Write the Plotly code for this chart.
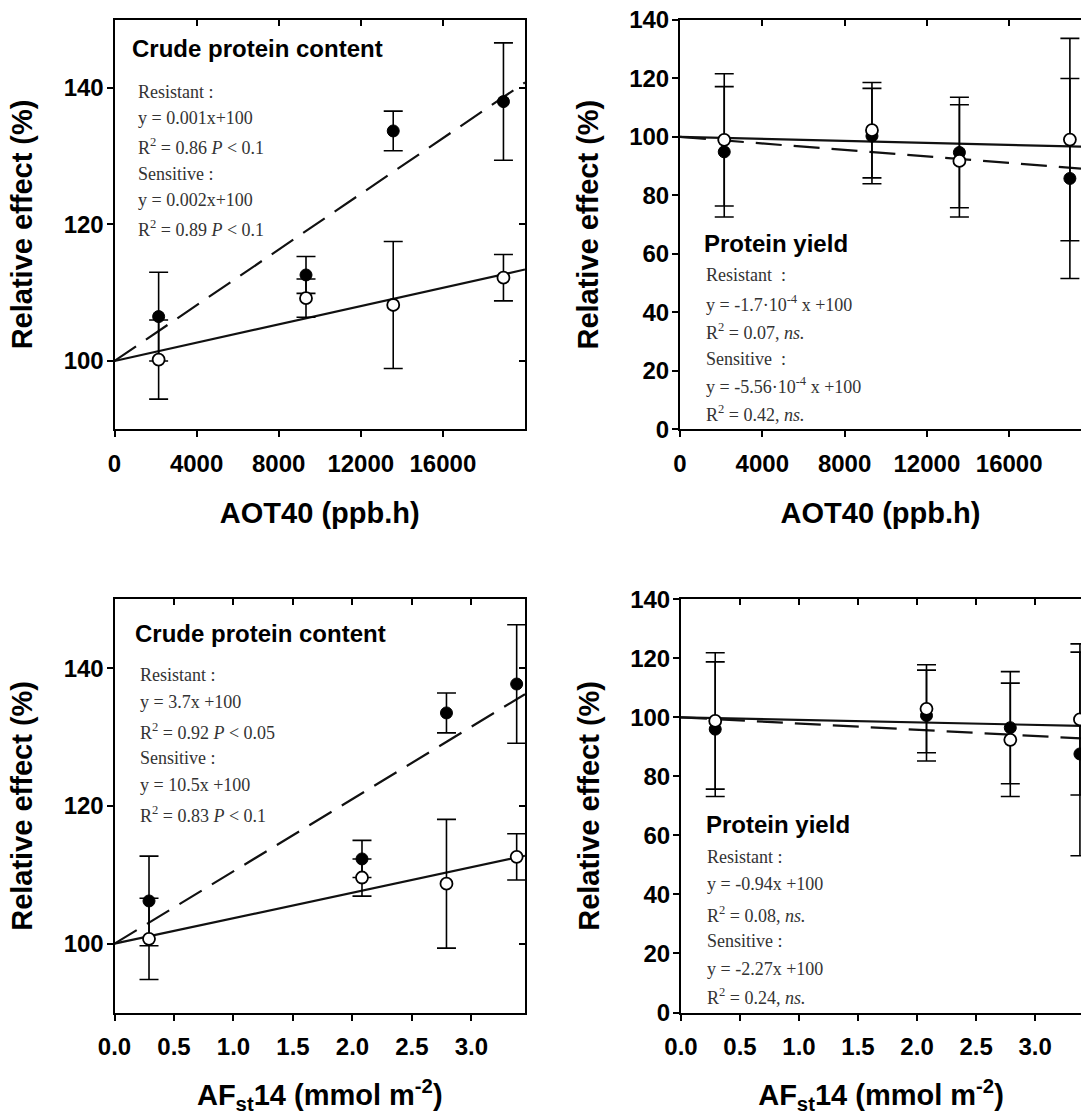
import plotly.graph_objects as go

# ---------------- data ----------------
aot40 = [2150, 9330, 13580, 18950]
afst14 = [0.29, 2.08, 2.79, 3.38]

# Crude protein content vs AOT40
cp_aot_sens = [106.5, 112.6, 133.7, 138.0]
cp_aot_sens_err = [6.5, 2.7, 2.9, 8.6]
cp_aot_res = [100.2, 109.2, 108.2, 112.2]
cp_aot_res_err = [5.8, 2.8, 9.3, 3.4]

# Protein yield vs AOT40
py_aot_sens = [94.9, 100.3, 94.7, 85.8]
py_aot_sens_err = [22.3, 16.3, 18.9, 34.2]
py_aot_res = [99.0, 102.3, 91.8, 99.1]
py_aot_res_err = [22.6, 16.3, 19.2, 34.6]

# Crude protein content vs AFst14
cp_af_sens = [106.2, 112.3, 133.5, 137.7]
cp_af_sens_err = [6.5, 2.7, 2.9, 8.6]
cp_af_res = [100.7, 109.6, 108.7, 112.6]
cp_af_res_err = [5.9, 2.7, 9.35, 3.35]

# Protein yield vs AFst14
py_af_sens = [96.0, 100.6, 96.5, 87.6]
py_af_sens_err = [22.8, 15.4, 19.0, 34.5]
py_af_res = [98.8, 102.9, 92.4, 99.3]
py_af_res_err = [23.1, 14.9, 19.2, 25.6]

# regression lines (intercept 100), slopes as drawn
reg_intercept = 100
slope_res = [0.00067, -1.7e-4, 3.7, -0.85]
slope_sens = [0.00204, -5.56e-4, 10.5, -2.1]

panel_titles = ["Crude protein content", "Protein yield", "Crude protein content", "Protein yield"]
eq_texts = [
    ["Resistant :", "y = 0.001x+100", "R<sup>2</sup> = 0.86 <i>P</i> &lt; 0.1",
     "Sensitive :", "y = 0.002x+100", "R<sup>2</sup> = 0.89 <i>P</i> &lt; 0.1"],
    ["Resistant  :", "y = -1.7·10<sup>-4</sup> x +100", "R<sup>2</sup> = 0.07, <i>ns.</i>",
     "Sensitive  :", "y = -5.56·10<sup>-4</sup> x +100", "R<sup>2</sup> = 0.42, <i>ns.</i>"],
    ["Resistant :", "y = 3.7x +100", "R<sup>2</sup> = 0.92 <i>P</i> &lt; 0.05",
     "Sensitive :", "y = 10.5x +100", "R<sup>2</sup> = 0.83 <i>P</i> &lt; 0.1"],
    ["Resistant :", "y = -0.94x +100", "R<sup>2</sup> = 0.08, <i>ns.</i>",
     "Sensitive :", "y = -2.27x +100", "R<sup>2</sup> = 0.24, <i>ns.</i>"],
]
x_titles = ["AOT40 (ppb.h)", "AOT40 (ppb.h)",
            "AF<sub>st</sub>14 (mmol m<sup>-2</sup>)", "AF<sub>st</sub>14 (mmol m<sup>-2</sup>)"]
y_title = "Relative effect (%)"
aot_ticks = [0, 4000, 8000, 12000, 16000]
aot_ticktext = ["0", "4000", "8000", "12000", "16000"]
af_ticks = [0.0, 0.5, 1.0, 1.5, 2.0, 2.5, 3.0]
af_ticktext = ["0.0", "0.5", "1.0", "1.5", "2.0", "2.5", "3.0"]
cp_yticks = [100, 120, 140]
py_yticks = [0, 20, 40, 60, 80, 100, 120, 140]

# ---------------- layout helpers ----------------
W, H = 1081, 1115
SANS = "Liberation Sans, Arial, sans-serif"
SERIF = "Liberation Serif, Times New Roman, serif"


def fx(p):
    return p / W


def fy(p):
    return 1 - p / H


panels = [
    dict(xd=(114.5, 525), yd=(19.7, 429.2), xr=[0, 20000], yr=[90, 150],
         xt=aot_ticks, xtt=aot_ticktext, yt=cp_yticks, right=True, xso=27,
         xs=aot40, sens=cp_aot_sens, se=cp_aot_sens_err, res=cp_aot_res, re=cp_aot_res_err,
         title=(130.4, 48.3), eq=(136.3, [92.3, 118.5, 146.2, 173.6, 200.3, 228.4])),
    dict(xd=(680, 1081), yd=(20, 429.3), xr=[0, 19490], yr=[0, 140],
         xt=aot_ticks, xtt=aot_ticktext, yt=py_yticks, right=False, xso=27,
         xs=aot40, sens=py_aot_sens, se=py_aot_sens_err, res=py_aot_res, re=py_aot_res_err,
         title=(702.2, 243.2), eq=(703.5, [275.2, 303.5, 331.8, 358.5, 385.5, 413.5])),
    dict(xd=(114.5, 525), yd=(599.3, 1012.5), xr=[0, 3.45], yr=[90, 150],
         xt=af_ticks, xtt=af_ticktext, yt=cp_yticks, right=True, xso=35,
         xs=afst14, sens=cp_af_sens, se=cp_af_sens_err, res=cp_af_res, re=cp_af_res_err,
         title=(132.8, 633.3), eq=(138.0, [675.2, 702.4, 731.0, 757.8, 785.4, 814.7])),
    dict(xd=(681, 1081), yd=(599.3, 1012.5), xr=[0, 3.389], yr=[0, 140],
         xt=af_ticks, xtt=af_ticktext, yt=py_yticks, right=False, xso=35,
         xs=afst14, sens=py_af_sens, se=py_af_sens_err, res=py_af_res, re=py_af_res_err,
         title=(703.9, 824.7), eq=(705.0, [856.9, 883.7, 914.1, 941.0, 968.5, 996.5])),
]

fig = go.Figure()
layout = dict(
    width=W, height=H, margin=dict(l=0, r=0, t=0, b=0, autoexpand=False),
    paper_bgcolor="white", plot_bgcolor="white", showlegend=False,
    font=dict(family=SANS, size=18, color="black"),
)
annotations = []

tickfont = dict(family=SANS, size=24, color="black", weight="bold")
titlefont = dict(family=SANS, size=29, color="black", weight="bold")

for i, p in enumerate(panels):
    n = i + 1
    xa, ya = f"x{n}", f"y{n}"
    xk, yk = f"xaxis{n}", f"yaxis{n}"
    xdom = [fx(p["xd"][0]), fx(p["xd"][1])]
    ydom = [fy(p["yd"][1]), fy(p["yd"][0])]
    layout[xk] = dict(
        domain=xdom, anchor=ya, range=p["xr"], tickmode="array",
        tickvals=p["xt"], ticktext=p["xtt"], automargin=False,
        ticks="outside", ticklen=6, tickwidth=1.5, tickcolor="black",
        showline=True, linecolor="black", linewidth=2, mirror=True,
        showgrid=False, zeroline=False, tickfont=tickfont, ticklabelstandoff=6,
        title=dict(text=x_titles[i], font=titlefont, standoff=p["xso"]),
    )
    layout[yk] = dict(
        domain=ydom, anchor=xa, range=p["yr"], tickmode="array", tickvals=p["yt"],
        automargin=False,
        ticks="outside", ticklen=6, tickwidth=1.5, tickcolor="black",
        showline=True, linecolor="black", linewidth=2, mirror=p["right"],
        showgrid=False, zeroline=False, tickfont=tickfont, ticklabelstandoff=-2,
        title=dict(text=y_title, font=titlefont, standoff=22),
    )
    # inside ticks on the top edge
    tk = 4 + n
    layout[f"xaxis{tk}"] = dict(
        overlaying=xa, anchor=ya, side="top", range=p["xr"], tickmode="array",
        tickvals=p["xt"], automargin=False,
        ticks="inside", ticklen=6, tickwidth=1.5, tickcolor="black",
        showticklabels=False, showline=False, showgrid=False, zeroline=False,
    )
    fig.add_trace(go.Scatter(x=[], y=[], xaxis=f"x{tk}", yaxis=ya, showlegend=False, hoverinfo="skip"))
    if p["right"]:
        layout[f"yaxis{tk}"] = dict(
            overlaying=ya, anchor=xa, side="right", range=p["yr"], tickmode="array",
            tickvals=p["yt"], automargin=False,
            ticks="inside", ticklen=6, tickwidth=1.5, tickcolor="black",
            showticklabels=False, showline=False, showgrid=False, zeroline=False,
        )
        fig.add_trace(go.Scatter(x=[], y=[], xaxis=xa, yaxis=f"y{tk}", showlegend=False, hoverinfo="skip"))

    # regression lines
    xline = [p["xr"][0], p["xr"][1]]
    fig.add_trace(go.Scatter(
        x=xline, y=[reg_intercept + slope_res[i] * v for v in xline], mode="lines",
        line=dict(color="#111111", width=2.2), xaxis=xa, yaxis=ya, name="Resistant fit"))
    fig.add_trace(go.Scatter(
        x=xline, y=[reg_intercept + slope_sens[i] * v for v in xline], mode="lines",
        line=dict(color="#111111", width=2.2, dash="26px,12px"), xaxis=xa, yaxis=ya,
        name="Sensitive fit"))
    # sensitive (filled) points
    fig.add_trace(go.Scatter(
        x=p["xs"], y=p["sens"], mode="markers", xaxis=xa, yaxis=ya, name="Sensitive",
        marker=dict(size=12, color="black", line=dict(color="black", width=1)),
        error_y=dict(type="data", array=p["se"], color="black", thickness=1.6, width=9.5),
        cliponaxis=False))
    # resistant (open) points
    fig.add_trace(go.Scatter(
        x=p["xs"], y=p["res"], mode="markers", xaxis=xa, yaxis=ya, name="Resistant",
        marker=dict(size=12, color="white", line=dict(color="black", width=1.8)),
        error_y=dict(type="data", array=p["re"], color="black", thickness=1.6, width=9.5),
        cliponaxis=False))

    # panel title
    annotations.append(dict(
        xref="paper", yref="paper", x=fx(p["title"][0]), y=fy(p["title"][1]),
        xanchor="left", yanchor="middle", showarrow=False, text=panel_titles[i],
        font=dict(family=SANS, size=24, color="black", weight="bold")))
    ex, eys = p["eq"]
    for t, yy in zip(eq_texts[i], eys):
        annotations.append(dict(
            xref="paper", yref="paper", x=fx(ex), y=fy(yy), xanchor="left", yanchor="middle",
            showarrow=False, text=t, font=dict(family=SERIF, size=18, color="#333333")))

layout["annotations"] = annotations
fig.update_layout(**layout)
fig.write_html("out.html")
